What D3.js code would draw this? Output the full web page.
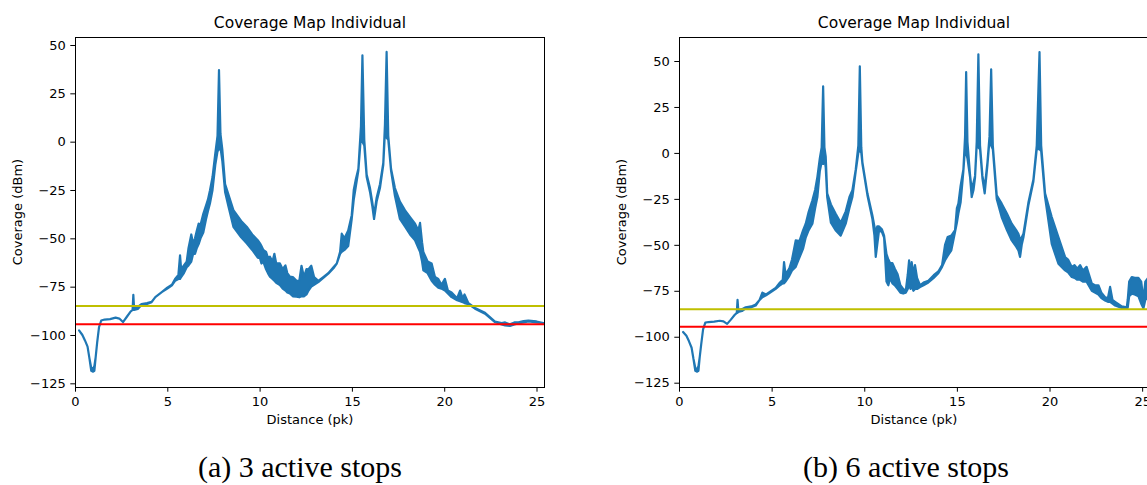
<!DOCTYPE html>
<html>
<head>
<meta charset="utf-8">
<script src="https://cdn.jsdelivr.net/npm/d3@7"></script>
<style>
  body { margin: 0; background: #fff; }
  svg text { font-family: "DejaVu Sans", sans-serif; fill: #000; }
  svg text.caption { font-family: "Liberation Serif", serif; font-size: 30px; }
</style>
</head>
<body>
<svg id="chart" width="1147" height="485"></svg>
<script>
// ============================================
// DATA
// ============================================

const distanceTicks = [0, 5, 10, 15, 20, 25];
const coverageTicks = [50, 25, 0, -25, -50, -75, -100, -125];
const thresholdGood = -85;   // yellow line (dBm)
const thresholdMin = -94.5;  // red line (dBm)
const titles = ['Coverage Map Individual', 'Coverage Map Individual'];
const captions = ['(a) 3 active stops', '(b) 6 active stops'];

// [distance (pk), min coverage, max coverage] - min/max envelope of the noisy trace
const stops3 = [
  [0.22, -97.6, -97.6], [0.4, -100, -100], [0.54, -102.8, -102.8], [0.68, -106, -106],
  [0.78, -112, -112], [0.88, -118.5, -117], [0.98, -119, -117.5], [1.05, -118.5, -116],
  [1.12, -111.4, -111.4], [1.2, -104, -104], [1.3, -96, -96], [1.42, -92.5, -92.5],
  [1.6, -92, -92], [1.9, -91.8, -91.8], [2.2, -91, -91], [2.4, -91.5, -91.5],
  [2.6, -93.3, -93.3], [2.8, -90.7, -90.7], [3.0, -88, -88], [3.12, -87, -87],
  [3.16, -87, -79.2], [3.2, -87, -86], [3.4, -86.5, -85.5], [3.6, -84.5, -84],
  [3.9, -84, -83.5], [4.15, -83, -82.9], [4.35, -80.4, -80.4], [4.7, -77.8, -77.8],
  [5.0, -76, -75.5], [5.25, -74.3, -74], [5.42, -72, -71], [5.6, -71, -69],
  [5.69, -71, -58.8], [5.75, -70, -66], [5.9, -68, -64], [6.05, -65, -62],
  [6.15, -64, -55], [6.3, -62, -48], [6.4, -58, -53], [6.5, -58, -50],
  [6.6, -55, -46], [6.7, -53, -42.4], [6.8, -50, -43], [6.95, -47, -37.3],
  [7.1, -40, -33], [7.2, -36, -30], [7.31, -32, -25.2], [7.45, -25, -18.3],
  [7.6, -12, -6], [7.72, -5, 3], [7.8, -4, 37], [7.88, -3, 4],
  [7.98, -10, -4], [8.13, -26, -22], [8.3, -33, -27], [8.58, -44, -35.4],
  [9.0, -49.5, -41], [9.3, -52.6, -44], [9.6, -56, -48], [9.9, -60, -51],
  [10.02, -60.3, -52.6], [10.1, -63, -54], [10.2, -62, -56], [10.35, -66, -57],
  [10.45, -68, -60], [10.56, -69.8, -59.5], [10.7, -71, -62], [10.8, -72, -58],
  [10.9, -73, -63], [11.1, -74.2, -63], [11.25, -76, -66], [11.4, -77, -64],
  [11.5, -78, -68], [11.64, -78.5, -69.8], [11.8, -80, -70], [12.0, -80.2, -72],
  [12.15, -80.5, -72], [12.27, -80, -64.2], [12.4, -80, -70], [12.54, -79, -65.9],
  [12.65, -77, -66], [12.8, -75, -64.2], [12.95, -74, -70], [13.18, -72.6, -72],
  [13.45, -70.5, -70], [13.72, -68.3, -68], [14.0, -65.5, -65], [14.18, -63.1, -63],
  [14.36, -58, -57], [14.45, -57, -47.6], [14.6, -56, -50], [14.8, -54, -45.9],
  [14.99, -40, -38], [15.1, -30, -25], [15.2, -24, -20], [15.35, -15, -14],
  [15.49, 3, 8], [15.57, 0, 44.7], [15.67, -2, 1], [15.8, -18.3, -17],
  [15.98, -26, -24], [16.1, -33, -31], [16.2, -40, -38], [16.34, -31, -29],
  [16.52, -24, -22], [16.7, -12, -11], [16.79, 5, 9], [16.88, 2, 46.4],
  [16.97, 1, 3], [17.12, -15, -14], [17.33, -28, -24], [17.6, -40, -31],
  [17.88, -44, -35.5], [18.15, -48, -39], [18.42, -51, -42.4], [18.6, -55, -46],
  [18.69, -57, -42], [18.8, -62, -52], [18.87, -66.6, -57], [19.1, -68, -62],
  [19.32, -72, -63], [19.5, -74, -70], [19.68, -75.5, -71], [19.85, -76, -74],
  [20.04, -77, -71], [20.2, -78.5, -77], [20.4, -80.4, -78], [20.7, -82, -81],
  [20.86, -82.5, -77], [21.0, -83, -81], [21.1, -83.5, -79], [21.31, -84, -83.5],
  [21.67, -86.4, -86], [22.21, -89, -88.5], [22.75, -93.3, -93], [23.11, -94.5, -93.8],
  [23.3, -95, -93.5], [23.56, -95.3, -94.5], [23.8, -94.5, -93.5], [24.02, -94, -93.5],
  [24.3, -93.5, -92.8], [24.56, -93, -92.5], [25.0, -93.5, -93], [25.37, -93.8, -93.8]
];

const stops6 = [
  [0.22, -97.4, -97.4], [0.4, -99.5, -99.5], [0.54, -102.5, -102.5], [0.68, -106, -106],
  [0.78, -112, -112], [0.88, -118.5, -117], [0.98, -119, -117.5], [1.05, -118.5, -116],
  [1.12, -111, -111], [1.2, -104, -104], [1.3, -96, -96], [1.42, -92.3, -92.3],
  [1.6, -92, -92], [1.9, -91.8, -91.8], [2.2, -91.3, -91.3], [2.4, -91.6, -91.6],
  [2.6, -93, -93], [2.8, -90.7, -90.7], [3.0, -88.2, -88.2], [3.12, -87, -87],
  [3.16, -87, -79.9], [3.2, -86.5, -85.5], [3.4, -86, -85], [3.6, -84.5, -84],
  [3.9, -84, -83.5], [4.14, -83, -82.5], [4.35, -80, -80], [4.5, -78.5, -76],
  [4.7, -77.5, -77], [5.0, -75.5, -75], [5.22, -74, -73.5], [5.45, -72, -70.5],
  [5.6, -71, -69], [5.67, -71, -59.4], [5.75, -70, -66], [5.95, -67, -63],
  [6.1, -64, -58], [6.3, -62, -47.6], [6.5, -57, -48], [6.7, -52, -42],
  [6.84, -46, -38.5], [7.0, -42, -32], [7.2, -38.5, -25.8], [7.35, -30, -20],
  [7.47, -24, -13], [7.6, -10, -3], [7.7, -5, 3], [7.78, -6, 36.2],
  [7.85, -3, 3], [7.92, -8, -2], [8.0, -24, -22], [8.2, -38, -28],
  [8.45, -42, -33], [8.73, -45, -38], [9.0, -38.5, -31.8], [9.2, -30, -24],
  [9.36, -24, -20.3], [9.54, -10, -9], [9.68, 0, 4], [9.76, 2, 47.1],
  [9.84, 0, 3], [9.9, -6, -5], [10.17, -23, -22], [10.44, -36, -34],
  [10.55, -45, -40], [10.62, -56.6, -44], [10.7, -50, -40], [10.8, -42, -40],
  [10.95, -43, -41.5], [11.07, -46, -45], [11.2, -70, -55], [11.3, -72, -58],
  [11.4, -68, -60], [11.52, -71, -60], [11.65, -72, -63], [11.8, -74, -66],
  [11.95, -76, -72], [12.1, -76.5, -74], [12.24, -76, -75], [12.35, -74, -66],
  [12.42, -72, -58.4], [12.5, -74, -68], [12.56, -72, -59.4], [12.65, -75, -66],
  [12.74, -74, -61], [12.85, -74, -68], [13.01, -73, -72], [13.2, -72, -70.5],
  [13.46, -70.5, -69.5], [13.75, -68, -66.5], [14.0, -65.5, -64.5], [14.2, -62, -61],
  [14.36, -58.4, -50], [14.5, -56, -45.8], [14.7, -53, -45], [14.9, -43, -42],
  [15.0, -38, -30], [15.08, -33, -27.6], [15.2, -27, -18], [15.35, -10, -9],
  [15.44, 3, 8.7], [15.5, 0, 44], [15.57, -3, 6], [15.71, -13.1, -12],
  [15.8, -24, -20], [15.9, -20, -16], [15.98, -13.5, -12.5], [16.07, 4, 6],
  [16.16, 3, 53.6], [16.25, 2, 4], [16.38, -14, -12.5], [16.5, -22, -19],
  [16.65, -6.5, -5], [16.76, 7, 9], [16.85, 4, 45.5], [16.94, 2, 4],
  [17.15, -25, -23], [17.42, -35, -27.6], [17.7, -42, -33], [17.96, -47.6, -38.5],
  [18.2, -51, -42], [18.32, -53, -44], [18.41, -56.6, -47], [18.5, -50, -46],
  [18.59, -46, -44], [18.86, -28.5, -27], [19.13, -15.5, -14.5], [19.31, 2, 4],
  [19.46, 2, 54.9], [19.55, 1, 4], [19.76, -24, -22], [20.12, -49.5, -34.9],
  [20.48, -60.3, -45.8], [20.84, -63.9, -56.6], [21.0, -65, -58], [21.2, -67.5, -62],
  [21.35, -68, -61], [21.5, -69, -63], [21.65, -69, -61], [21.8, -70, -64],
  [22.0, -70, -62], [22.28, -75, -71], [22.45, -76, -72], [22.64, -77, -72],
  [22.8, -79, -76], [23.0, -80.3, -78.5], [23.15, -81, -79], [23.27, -81, -72.9],
  [23.4, -82, -80], [23.54, -83, -81], [23.9, -84.3, -83.5], [24.17, -84.5, -84],
  [24.22, -84.3, -80], [24.3, -78, -70], [24.44, -76.6, -67.5], [24.6, -77, -68],
  [24.8, -78, -68], [24.95, -82, -70], [25.07, -84.5, -80], [25.17, -80, -70],
  [25.36, -78, -67.5]
];

// ============================================
// LAYOUT
// ============================================

const plotW = 470;
const plotH = 350;
const panels = [
  { left: 75, top: 37, xMax: 25.46, yDomain: [-126.9, 54.14], data: stops3, title: titles[0], caption: captions[0], capX: 300 },
  { left: 679, top: 37, xMax: 25.37, yDomain: [-127.34, 63.06], data: stops6, title: titles[1], caption: captions[1], capX: 906 }
];

const blue = '#1f77b4';
const svg = d3.select('#chart');

svg.append('rect')
  .attr('width', 1147)
  .attr('height', 485)
  .attr('fill', '#fff');

// ============================================
// DRAW PANELS
// ============================================

panels.forEach((p, i) => {
  const g = svg.append('g')
    .attr('transform', `translate(${p.left},${p.top})`);

  const x = d3.scaleLinear().domain([0, p.xMax]).range([0, plotW]);
  const y = d3.scaleLinear().domain(p.yDomain).range([plotH, 0]);

  const clipId = 'clip' + i;
  g.append('clipPath').attr('id', clipId)
    .append('rect').attr('width', plotW).attr('height', plotH);

  // signal trace (min/max envelope)
  const area = d3.area()
    .x(d => x(d[0]))
    .y0(d => y(d[1]))
    .y1(d => y(d[2]));

  g.append('path')
    .datum(p.data)
    .attr('clip-path', `url(#${clipId})`)
    .attr('d', area)
    .attr('fill', blue)
    .attr('stroke', blue)
    .attr('stroke-width', 2.2)
    .attr('stroke-linejoin', 'round');

  // threshold lines
  [[thresholdGood, '#bfbf00'], [thresholdMin, '#ff0000']].forEach(([v, c]) => {
    g.append('line')
      .attr('x1', 0).attr('x2', plotW)
      .attr('y1', y(v)).attr('y2', y(v))
      .attr('stroke', c)
      .attr('stroke-width', 2);
  });

  // axes
  const xAxis = g.append('g')
    .attr('transform', `translate(0,${plotH})`)
    .call(d3.axisBottom(x).tickValues(distanceTicks).tickSize(4.7).tickPadding(5.5).tickSizeOuter(0));

  const yAxis = g.append('g')
    .call(d3.axisLeft(y).tickValues(coverageTicks).tickSize(4.7).tickPadding(4.5).tickSizeOuter(0));

  [xAxis, yAxis].forEach(a => {
    a.select('.domain').remove();
    a.selectAll('text').attr('font-size', 13).attr('font-family', '"DejaVu Sans", sans-serif').attr('fill', '#000');
    a.selectAll('line').attr('stroke', '#000').attr('stroke-width', 1);
  });

  // frame
  g.append('rect')
    .attr('x', 0.5).attr('y', 0.5)
    .attr('width', plotW - 1).attr('height', plotH)
    .attr('fill', 'none')
    .attr('stroke', '#000')
    .attr('stroke-width', 1);

  // title and axis labels
  g.append('text')
    .attr('x', plotW / 2)
    .attr('y', -9)
    .attr('text-anchor', 'middle')
    .attr('font-size', 15.5)
    .text(p.title);

  g.append('text')
    .attr('x', plotW / 2)
    .attr('y', plotH + 37)
    .attr('text-anchor', 'middle')
    .attr('font-size', 13)
    .text('Distance (pk)');

  g.append('text')
    .attr('transform', 'rotate(-90)')
    .attr('x', -plotH / 2)
    .attr('y', -53)
    .attr('text-anchor', 'middle')
    .attr('font-size', 13)
    .text('Coverage (dBm)');

  svg.append('text')
    .attr('class', 'caption')
    .attr('x', p.capX)
    .attr('y', 477)
    .attr('text-anchor', 'middle')
    .text(p.caption);
});
</script>
</body>
</html>
